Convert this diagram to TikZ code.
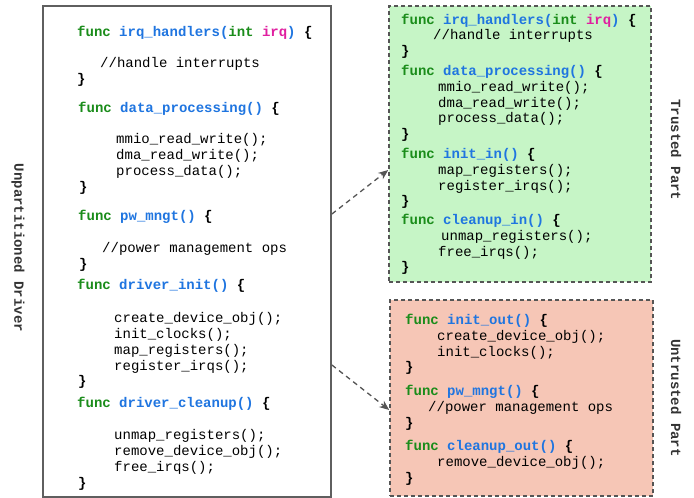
\documentclass[tikz,border=0pt]{standalone}
\usepackage{fontspec}
\setmonofont{Liberation Mono}
\usetikzlibrary{arrows.meta}
\definecolor{kwgreen}{HTML}{1A8C1A}
\definecolor{fnblue}{HTML}{1F75E0}
\definecolor{argmag}{HTML}{E01FA0}
\definecolor{boxgray}{HTML}{5F5F5F}
\definecolor{dashgray}{HTML}{555555}
\definecolor{trustfill}{HTML}{C6F5C6}
\definecolor{untrustfill}{HTML}{F6C6B6}
\definecolor{labelgray}{HTML}{333333}
\newcommand{\kwf}{\textbf{\color{kwgreen}func}}
\newcommand{\fnm}[1]{\textbf{\color{fnblue}#1}}
\newcommand{\obr}{\textbf{\{}}
\newcommand{\cbr}{\textbf{\}}}
\tikzset{
  codeline/.style={anchor=mid west, inner sep=0pt, yshift=-2.5pt, font=\ttfamily\fontsize{14}{16}\selectfont, text=black},
  sidelabel/.style={rotate=-90, inner sep=0pt, font=\ttfamily\bfseries\fontsize{14}{16}\selectfont, text=labelgray},
  drvbox/.style={draw=boxgray, line width=1.8pt, fill=white, inner sep=0pt},
  partbox/.style={draw=dashgray, line width=1.5pt, dash pattern=on 4pt off 3pt, inner sep=0pt},
  mapline/.style={draw=dashgray, line width=1.3pt, dash pattern=on 5pt off 4pt, -{Stealth[length=10pt,width=8pt]}}
}
\begin{document}
\begin{tikzpicture}[x=1pt,y=-1pt]
\useasboundingbox (0,0) rectangle (694,498);
% boxes
\node[drvbox, minimum width=288pt, minimum height=491pt] (drv) at (187,251.5) {};
\node[partbox, fill=trustfill, minimum width=262pt, minimum height=276pt] (trusted) at (520,144) {};
\node[partbox, fill=untrustfill, minimum width=263pt, minimum height=196pt] (untrusted) at (521.5,398) {};
% side labels
\node[sidelabel] (lblu) at (18,248) {Unpartitioned Driver};
\node[sidelabel] (lblt) at (676,150) {Trusted Part};
\node[sidelabel] (lblut) at (676,398) {Untrusted Part};
% left code
\node[codeline] (l1) at (77,32) {\kwf{} \fnm{irq\_handlers(}\textbf{\color{kwgreen}int} \textbf{\color{argmag}irq}\fnm{)} \obr};
\node[codeline] (l2) at (100,63) {//handle interrupts};
\node[codeline] (l3) at (77,79) {\cbr};
\node[codeline] (l4) at (78,108) {\kwf{} \fnm{data\_processing()} \obr};
\node[codeline] (l5) at (116,139) {mmio\_read\_write();};
\node[codeline] (l6) at (116,155) {dma\_read\_write();};
\node[codeline] (l7) at (116,171) {process\_data();};
\node[codeline] (l8) at (79,187) {\cbr};
\node[codeline] (l9) at (78,216) {\kwf{} \fnm{pw\_mngt()} \obr};
\node[codeline] (l10) at (102,248) {//power management ops};
\node[codeline] (l11) at (79,264) {\cbr};
\node[codeline] (l12) at (77,285) {\kwf{} \fnm{driver\_init()} \obr};
\node[codeline] (l13) at (114,318) {create\_device\_obj();};
\node[codeline] (l14) at (114,334) {init\_clocks();};
\node[codeline] (l15) at (114,350) {map\_registers();};
\node[codeline] (l16) at (114,366) {register\_irqs();};
\node[codeline] (l17) at (78,381) {\cbr};
\node[codeline] (l18) at (77,403) {\kwf{} \fnm{driver\_cleanup()} \obr};
\node[codeline] (l19) at (114,435) {unmap\_registers();};
\node[codeline] (l20) at (114,451) {remove\_device\_obj();};
\node[codeline] (l21) at (114,467) {free\_irqs();};
\node[codeline] (l22) at (78,483) {\cbr};
% trusted code
\node[codeline] (t1) at (401,20) {\kwf{} \fnm{irq\_handlers(}\textbf{\color{kwgreen}int} \textbf{\color{argmag}irq}\fnm{)} \obr};
\node[codeline] (t2) at (433,35) {//handle interrupts};
\node[codeline] (t3) at (401,51) {\cbr};
\node[codeline] (t4) at (401,71) {\kwf{} \fnm{data\_processing()} \obr};
\node[codeline] (t5) at (438,87) {mmio\_read\_write();};
\node[codeline] (t6) at (438,103) {dma\_read\_write();};
\node[codeline] (t7) at (438,118) {process\_data();};
\node[codeline] (t8) at (401,134) {\cbr};
\node[codeline] (t9) at (401,154) {\kwf{} \fnm{init\_in()} \obr};
\node[codeline] (t10) at (438,170) {map\_registers();};
\node[codeline] (t11) at (438,186) {register\_irqs();};
\node[codeline] (t12) at (401,201) {\cbr};
\node[codeline] (t13) at (401,220) {\kwf{} \fnm{cleanup\_in()} \obr};
\node[codeline] (t14) at (441,236) {unmap\_registers();};
\node[codeline] (t15) at (438,252) {free\_irqs();};
\node[codeline] (t16) at (401,267) {\cbr};
% untrusted code
\node[codeline] (u1) at (405,320) {\kwf{} \fnm{init\_out()} \obr};
\node[codeline] (u2) at (437,336) {create\_device\_obj();};
\node[codeline] (u3) at (437,352) {init\_clocks();};
\node[codeline] (u4) at (405,367) {\cbr};
\node[codeline] (u5) at (405,391) {\kwf{} \fnm{pw\_mngt()} \obr};
\node[codeline] (u6) at (428,407) {//power management ops};
\node[codeline] (u7) at (405,423) {\cbr};
\node[codeline] (u8) at (405,446) {\kwf{} \fnm{cleanup\_out()} \obr};
\node[codeline] (u9) at (437,462) {remove\_device\_obj();};
\node[codeline] (u10) at (405,478) {\cbr};
% mapping arrows
\coordinate (a1s) at (drv.east |- 0,214);
\coordinate (a1e) at (trusted.west |- 0,170);
\coordinate (a2s) at (drv.east |- 0,365);
\coordinate (a2e) at (untrusted.west |- 0,410);
\draw[mapline] (a1s) -- (a1e);
\draw[mapline] (a2s) -- (a2e);
\end{tikzpicture}
\end{document}
